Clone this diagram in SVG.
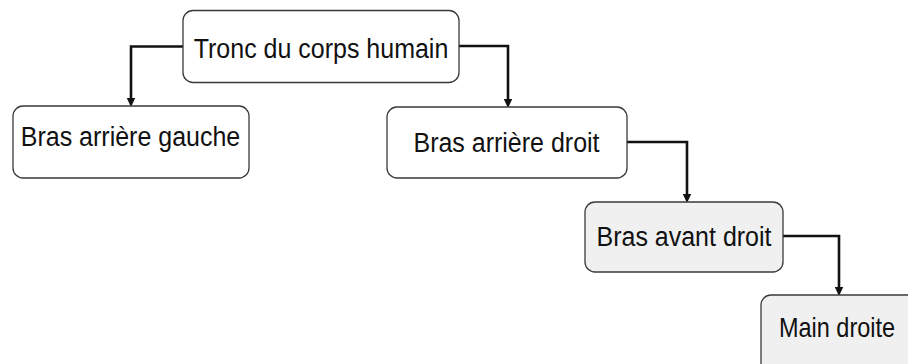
<svg xmlns="http://www.w3.org/2000/svg" width="908" height="364" viewBox="0 0 908 364">
<style>
.box{fill:#ffffff;stroke:#3a3a3a;stroke-width:1.3}
.box.grey{fill:#f0f0f0}
.lbl{font-family:"Liberation Sans",Arial,sans-serif;font-size:25px;fill:#111;text-anchor:middle}
.conn{fill:none;stroke:#111;stroke-width:2.6}
</style>
<defs>
<marker id="arr" markerUnits="userSpaceOnUse" markerWidth="10" markerHeight="10" viewBox="0 0 9 9" refX="4" refY="4.5" orient="auto">
<path d="M0,0.5 L8.5,4.5 L0,8.5 z" fill="#111"/>
</marker>
</defs>
<rect width="908" height="364" fill="#ffffff"/>
<g id="connectors">
<path class="conn" d="M183,46.5 H131 V102" marker-end="url(#arr)"/>
<path class="conn" d="M459,46 H508 V103" marker-end="url(#arr)"/>
<path class="conn" d="M627,142 H687 V198" marker-end="url(#arr)"/>
<path class="conn" d="M783,236 H839 V291" marker-end="url(#arr)"/>
</g>
<g id="tronc">
<rect class="box" x="183" y="10.5" width="276" height="72" rx="10"/>
<text class="lbl" transform="translate(321,57.5) scale(1,1.13)">Tronc du corps humain</text>
</g>
<g id="bras-arriere-gauche">
<rect class="box" x="13" y="106" width="236" height="72" rx="10"/>
<text class="lbl" transform="translate(130.5,145.7) scale(1,1.13)">Bras arrière gauche</text>
</g>
<g id="bras-arriere-droit">
<rect class="box" x="387" y="107" width="240" height="71" rx="10"/>
<text class="lbl" transform="translate(506.5,151.5) scale(1,1.13)">Bras arrière droit</text>
</g>
<g id="bras-avant-droit">
<rect class="box grey" x="585" y="202" width="198" height="70" rx="10"/>
<text class="lbl" transform="translate(684,245.5) scale(1,1.13)">Bras avant droit</text>
</g>
<g id="main-droite">
<rect class="box grey" x="761" y="295" width="160" height="80" rx="10"/>
<text class="lbl" style="font-size:23.5px" transform="translate(837,337) scale(1,1.15)">Main droite</text>
</g>
</svg>
